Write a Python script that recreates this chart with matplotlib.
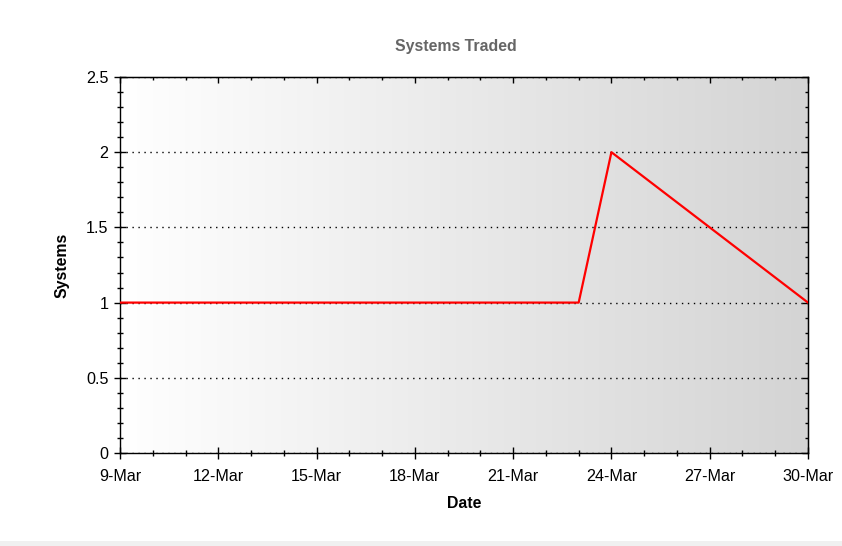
import matplotlib
matplotlib.use("Agg")
import matplotlib.pyplot as plt
import matplotlib.dates as mdates
from matplotlib.ticker import MultipleLocator
from matplotlib.patches import Rectangle
from matplotlib.colors import LinearSegmentedColormap
import numpy as np
import datetime as dt

# ---- data ----
dates = ["2015-03-09", "2015-03-23", "2015-03-24", "2015-03-30"]
systems = [1, 1, 2, 1]
title = "Systems Traded"
xlabel = "Date"
ylabel = "Systems"

x = [dt.datetime.strptime(d, "%Y-%m-%d") for d in dates]

plt.rcParams['font.family'] = ['Liberation Sans', 'DejaVu Sans']

fig = plt.figure(figsize=(8.42, 5.46), dpi=100)
fig.patch.set_facecolor("white")
# light grey strip at bottom of the image
fig.add_artist(Rectangle((0, 0), 1, 5.5 / 546, transform=fig.transFigure,
                         facecolor="#f0f0f0", edgecolor="none", zorder=-10))

ax = fig.add_axes([120 / 842, (546 - 453) / 546, 688 / 842, 376 / 546])

# gradient background
grad = np.linspace(0, 1, 256).reshape(1, -1)
cmap = LinearSegmentedColormap.from_list("bg", ["#ffffff", "#d4d4d4"])
ax.imshow(grad, aspect="auto", cmap=cmap, extent=[0, 1, 0, 1],
          transform=ax.transAxes, zorder=0, interpolation="bilinear")

ax.plot(x, systems, color="#ff0000", lw=1.6, zorder=3)

major_days = [3, 6, 9, 12, 15, 18, 21, 24, 27, 30]
ax.set_xlim(dt.datetime(2015, 3, 9), dt.datetime(2015, 3, 30))
ax.set_ylim(0, 2.5)
ax.xaxis.set_major_locator(mdates.DayLocator(bymonthday=major_days))
ax.xaxis.set_minor_locator(mdates.DayLocator())
ax.xaxis.set_major_formatter(mdates.DateFormatter("%-d-%b"))
ax.yaxis.set_major_locator(MultipleLocator(0.5))
ax.yaxis.set_minor_locator(MultipleLocator(0.1))
ax.yaxis.set_major_formatter(plt.FuncFormatter(lambda v, p: f"{v:g}"))

ax.tick_params(which="major", direction="inout", length=8.6, width=1.0,
               labelsize=11.6, colors="black")
ax.tick_params(which="minor", direction="inout", length=3.8, width=1.0)
ax.tick_params(axis="x", which="major", pad=7)
ax.tick_params(axis="y", which="major", pad=4)

for s in ax.spines.values():
    s.set_linewidth(1.0)
    s.set_color("black")

ax.grid(axis="y", which="major", color="black", linestyle=(0, (1, 3.3)), lw=1.0, zorder=1)
ax.set_axisbelow(False)

secx = ax.secondary_xaxis("top")
secx.xaxis.set_major_locator(mdates.DayLocator(bymonthday=major_days))
secx.xaxis.set_minor_locator(mdates.DayLocator())
secx.tick_params(which="major", direction="in", length=4.3, width=1.0, labeltop=False)
secx.tick_params(which="minor", direction="in", length=2.2, width=1.0)
secy = ax.secondary_yaxis("right")
secy.yaxis.set_major_locator(MultipleLocator(0.5))
secy.yaxis.set_minor_locator(MultipleLocator(0.1))
secy.tick_params(which="major", direction="in", length=4.3, width=1.0, labelright=False)
secy.tick_params(which="minor", direction="in", length=2.2, width=1.0)

ax.set_title(title, fontsize=11.4, fontweight="bold", color="#666666", pad=19, x=0.488)
ax.set_xlabel(xlabel, fontsize=11.4, fontweight="bold", labelpad=9)
ax.set_ylabel(ylabel, fontsize=11.4, fontweight="bold", labelpad=12)

fig.savefig("out.png", dpi=100)
